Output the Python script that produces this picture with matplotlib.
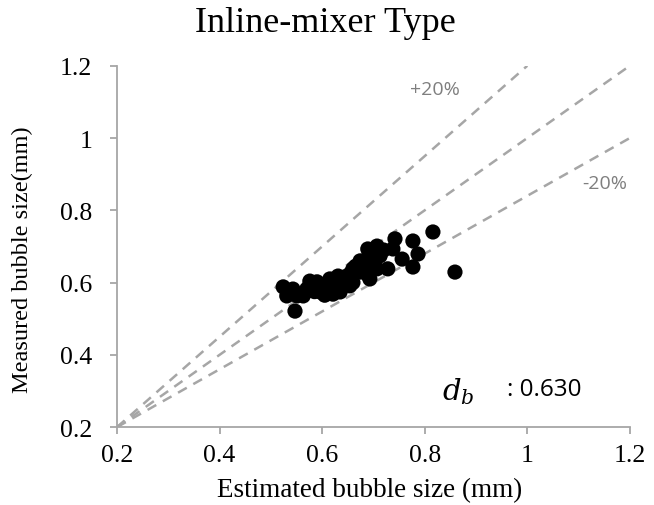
import matplotlib
matplotlib.use("Agg")
import matplotlib.pyplot as plt

# --- data ---
estimated = [0.547, 0.859, 0.816, 0.777, 0.787, 0.777, 0.742, 0.738, 0.756, 0.728,
             0.707, 0.689, 0.699, 0.674, 0.687, 0.693, 0.660, 0.648, 0.654, 0.631,
             0.629, 0.615, 0.609, 0.590, 0.576, 0.570, 0.563, 0.543, 0.524, 0.531,
             0.551, 0.596, 0.621, 0.635, 0.641, 0.674, 0.680, 0.707, 0.713, 0.665,
             0.600, 0.585, 0.660, 0.720, 0.640, 0.655, 0.615, 0.700, 0.605, 0.690]
measured = [0.521, 0.629, 0.740, 0.715, 0.679, 0.643, 0.721, 0.693, 0.665, 0.638,
            0.701, 0.693, 0.665, 0.660, 0.638, 0.610, 0.638, 0.618, 0.591, 0.618,
            0.582, 0.610, 0.582, 0.602, 0.604, 0.582, 0.563, 0.582, 0.588, 0.563,
            0.563, 0.574, 0.568, 0.574, 0.596, 0.629, 0.652, 0.638, 0.674, 0.645,
            0.590, 0.575, 0.600, 0.690, 0.605, 0.625, 0.595, 0.650, 0.565, 0.620]

# reference lines (start, end)
line_plus_x = [0.2, 1.0]
line_plus_y = [0.2, 1.2]
line_equal_x = [0.2, 1.2]
line_equal_y = [0.2, 1.2]
line_minus_x = [0.2, 1.2]
line_minus_y = [0.2, 1.0]

ticks = [0.2, 0.4, 0.6, 0.8, 1.0, 1.2]
tick_labels = ["0.2", "0.4", "0.6", "0.8", "1", "1.2"]

AXIS_COLOR = '#A6A6A6'
LINE_COLOR = '#A6A6A6'
NOTE_COLOR = '#7F7F7F'
SERIF = 'Liberation Serif'

fig = plt.figure(figsize=(6.54, 5.06), dpi=100)
ax = fig.add_axes([0.179, 0.154, 0.784, 0.714])

for xs, ys in [(line_plus_x, line_plus_y), (line_equal_x, line_equal_y),
               (line_minus_x, line_minus_y)]:
    ax.plot(xs, ys, linestyle=(0, (4, 3)), linewidth=1.8, color=LINE_COLOR,
            zorder=1, clip_on=True)

ax.scatter(estimated, measured, s=120, color='black', edgecolors='none', zorder=3)

ax.set_xlim(0.2, 1.2)
ax.set_ylim(0.2, 1.2)
ax.set_xticks(ticks)
ax.set_xticklabels(tick_labels)
ax.set_yticks(ticks)
ax.set_yticklabels(tick_labels)

for side in ['top', 'right']:
    ax.spines[side].set_visible(False)
for side in ['left', 'bottom']:
    ax.spines[side].set_color(AXIS_COLOR)
    ax.spines[side].set_linewidth(1.3)

ax.tick_params(axis='both', direction='out', length=5, width=1.3, color=AXIS_COLOR,
               labelsize=18.5)
ax.tick_params(axis='x', pad=7)
ax.tick_params(axis='y', pad=13)
for lbl in ax.get_xticklabels() + ax.get_yticklabels():
    lbl.set_fontfamily(SERIF)

fig.text(325 / 654, 1 - 24 / 506, "Inline-mixer Type", fontsize=26, family=SERIF,
         ha='center', va='center')
fig.text(370 / 654, 1 - 491 / 506, "Estimated bubble size (mm)", fontsize=19.5,
         family=SERIF, ha='center', va='center')
fig.text(22 / 654, 1 - 260 / 506, "Measured bubble size(mm)", fontsize=17.5,
         family=SERIF, ha='center', va='center', rotation=90)

ax.text(0.82, 1.136, "+20%", fontsize=14, color=NOTE_COLOR, family='Open Sans',
        ha='center', va='center')
ax.text(1.151, 0.876, "-20%", fontsize=14, color=NOTE_COLOR, family='Open Sans',
        ha='center', va='center')
ax.text(0.833, 0.300, r"$d_b$", fontsize=21, color='black', ha='left', va='center',
        math_fontfamily='dejavuserif')
ax.text(0.96, 0.305, ": 0.630", fontsize=17.5, color='black', family='Open Sans',
        ha='left', va='center')

fig.savefig("out.png", dpi=100, facecolor='white')
